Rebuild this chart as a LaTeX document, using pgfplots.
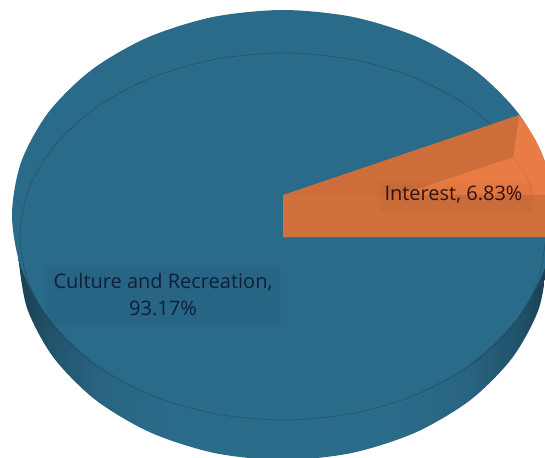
\documentclass[border=0pt]{standalone}
\usepackage{pgfplots}
\pgfplotsset{compat=1.18}
\usepackage{fontspec}
\setmainfont{Open Sans}
\definecolor{face}{HTML}{2B6B8A}
\definecolor{rimline}{HTML}{1B4A63}
\definecolor{wall}{HTML}{CC6D3A}
\definecolor{band}{HTML}{D0703B}
\definecolor{wedge}{HTML}{E97B45}
\definecolor{inkblue}{HTML}{0C2038}
\definecolor{inkred}{HTML}{321210}
\pgfdeclarehorizontalshading{sidewall}{100bp}{
  color(0bp)=(black!45!face);
  color(25bp)=(black!42!face);
  color(28bp)=(black!22!face);
  color(33bp)=(black!6!face);
  color(40bp)=(face);
  color(60bp)=(face);
  color(67bp)=(black!6!face);
  color(72bp)=(black!22!face);
  color(75bp)=(black!42!face);
  color(100bp)=(black!45!face)}
\begin{document}
\begin{tikzpicture}
\path[use as bounding box] (0,0) rectangle (545pt,457pt);
\begin{axis}[
  scale only axis, width=545pt, height=457pt,
  xmin=0, xmax=545, ymin=0, ymax=457, y dir=reverse,
  hide axis, clip=true]

% pie wall, lower half of the base outline
\addplot[draw=none, shading=sidewall, smooth] coordinates {
  (548,255) (539,308.1) (512.5,357.5) (470.4,400) (415.5,432.5) (351.6,453)
  (283,460) (214.4,453) (150.5,432.5) (95.6,400) (53.5,357.5) (27,308.1) (18,255)};

% top face outline
\addplot[draw=none, fill=face, smooth] coordinates {
  (554,215) (544.8,268.1) (517.7,317.5) (474.6,360) (418.5,392.5) (353.1,413)
  (283,420) (212.9,413) (147.5,392.5) (91.4,360) (48.3,317.5) (21.2,268.1)
  (12,215) (21.2,161.9) (48.3,112.5) (91.4,70) (147.5,37.5) (212.9,17)
  (283,10) (353.1,17) (418.5,37.5) (474.6,70) (517.7,112.5) (544.8,161.9) (554,215)};

% bevel line inside the top face
\addplot[draw=rimline, line width=0.4pt, smooth] coordinates {
  (546,236.5) (537,284) (510.8,328.3) (469,366.3) (414.5,395.4) (351.1,413.7)
  (283,420) (214.9,413.7) (151.5,395.4) (97,366.3) (55.2,328.3) (29,284)
  (20,236.5) (29,189) (55.2,144.7) (97,106.7) (151.5,77.6) (214.9,59.3)
  (283,53) (351.1,59.3) (414.5,77.6) (469,106.7) (510.8,144.7) (537,189) (546,236.5)};

% Interest slice: 6.83 % of the pie
\addplot[draw=none, fill=wedge] coordinates {
  (283,237) (519,115) (527,126) (535,139) (541,151) (546,164) (546,237)} --cycle;
\addplot[draw=none, fill=wall] coordinates {
  (283,195) (519,115) (513,157) (399,195)} --cycle;
\addplot[draw=none, fill=band] coordinates {
  (283,195) (546,195) (546,237) (283,237)} --cycle;
\addplot[draw=wall, line width=0.4pt, smooth] coordinates {
  (513,157) (523,171) (530,185) (533,195)};

% data label plates with a soft offset shadow
\fill[black, opacity=0.012] (axis cs:48,269) rectangle (axis cs:282,329);
\fill[black, opacity=0.012] (axis cs:46,267) rectangle (axis cs:280,327);
\fill[black, opacity=0.012] (axis cs:44,264) rectangle (axis cs:278,325);
\fill[black, opacity=0.015] (axis cs:381,185) rectangle (axis cs:534,213);
\fill[black, opacity=0.015] (axis cs:378,182) rectangle (axis cs:531,210);

\node[text=inkblue, font=\fontsize{20}{27}\selectfont, align=center, anchor=center]
  at (axis cs:163,295) {Culture and Recreation,\\93.17\%};
\node[text=inkred, font=\fontsize{20}{27}\selectfont, anchor=center]
  at (axis cs:453.5,195) {Interest, 6.83\%};
\end{axis}
\end{tikzpicture}
\end{document}
